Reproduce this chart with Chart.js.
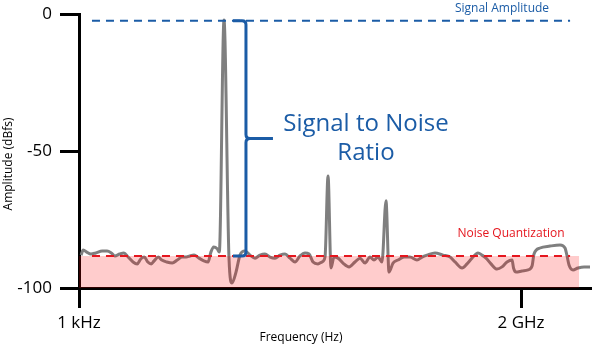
<!DOCTYPE html>
<html>
<head>
<meta charset="utf-8">
<script src="https://cdn.jsdelivr.net/npm/chart.js@4.4.0/dist/chart.umd.min.js"></script>
<style>
  html, body { margin: 0; padding: 0; background: #ffffff; }
  canvas { display: block; }
</style>
</head>
<body>
<canvas id="c" width="594" height="348"></canvas>
<script>
// Spectrum trace: frequency as log10(Hz), amplitude in dBFS
const spectrumLogHz = [
  3.03, 3.06, 3.11, 3.17, 3.24, 3.33, 3.40, 3.46, 3.51, 3.58, 3.64, 3.70, 3.77, 3.83, 3.88, 3.93,
  3.98, 4.03, 4.07, 4.13, 4.18, 4.25, 4.33, 4.40, 4.47, 4.53, 4.58, 4.64, 4.71, 4.78, 4.84, 4.88,
  4.92, 4.97, 5.00, 5.067, 5.138, 5.181, 5.238, 5.295, 5.366, 5.438, 5.509, 5.580, 5.651, 5.723,
  5.794, 5.865, 5.937, 6.008, 6.079, 6.150, 6.222, 6.279, 6.336, 6.407, 6.464, 6.507, 6.550, 6.592,
  6.635, 6.692, 6.763, 6.849, 6.934, 7.006, 7.077, 7.148, 7.205, 7.262, 7.319, 7.376, 7.419, 7.476,
  7.547, 7.633, 7.718, 7.818, 7.890, 7.961, 8.075, 8.189, 8.289, 8.360, 8.460, 8.531, 8.602, 8.688,
  8.745, 8.802, 8.873, 8.959, 9.030, 9.101, 9.173, 9.194, 9.230, 9.315, 9.401, 9.458, 9.486, 9.572,
  9.714, 9.857, 9.928, 9.957, 9.985, 10.042, 10.113, 10.199, 10.284
];
const spectrumDb = [
  -88.0, -86.1, -86.9, -87.6, -87.2, -86.5, -86.5, -87.2, -88.3, -87.6, -87.2, -88.7, -90.5, -91.2, -89.4, -88.7,
  -90.5, -91.2, -90.1, -88.7, -89.8, -90.5, -90.9, -89.8, -88.7, -88.7, -88.3, -88.0, -89.1, -90.1, -90.5, -86.9,
  -85.0, -85.7, -86.9, -2.2, -89.1, -98.2, -94.2, -88.0, -86.5, -88.0, -89.1, -88.0, -87.6, -88.7,
  -89.1, -88.0, -87.6, -89.1, -90.5, -88.3, -87.2, -87.6, -90.5, -91.2, -90.5, -88.7, -59.1, -92.7,
  -88.7, -89.1, -90.9, -92.3, -90.5, -89.1, -90.9, -88.7, -89.8, -88.7, -90.5, -68.2, -94.2, -90.9,
  -89.8, -88.7, -88.7, -89.8, -88.7, -88.0, -87.2, -88.0, -88.7, -90.5, -92.7, -91.2, -89.1, -87.2,
  -88.0, -89.1, -91.2, -93.1, -92.3, -90.5, -89.8, -92.7, -94.2, -93.8, -93.4, -92.0, -87.6, -85.4,
  -84.7, -84.3, -85.4, -88.3, -91.6, -93.4, -92.7, -92.3, -92.3
];

// Reference levels (dBFS)
const signalLevelDb = -2.5;
const noiseFloorDb = -88.3;

// Axis ticks
const yTickValues = [0, -50, -100];
const xTickHz = [1e3, 2e9];
const xTickLabels = ['1 kHz', '2 GHz'];

// Horizontal extents of the reference lines and the noise band (log10 Hz)
const refLineSpan = [3.185, 10.0];
const noiseBandSpan = [3.0, 10.13];
const bracketAt = 5.38;

const BLUE = '#1b5ca6';
const RED = '#e5161e';
const FONT = "'Open Sans', 'DejaVu Sans', sans-serif";

const toPoints = (xs, ys) => xs.map((v, i) => ({ x: v, y: ys[i] }));
const flat = (span, level) => span.map(v => ({ x: v, y: level }));

const annotations = {
  id: 'annotations',
  afterDatasetsDraw(chart) {
    const { ctx, scales: { x, y } } = chart;
    const top = y.getPixelForValue(signalLevelDb);
    const bot = y.getPixelForValue(noiseFloorDb);
    const mid = (top + bot) / 2;
    const sx = x.getPixelForValue(bracketAt);
    const r = 4;

    ctx.save();
    ctx.strokeStyle = BLUE;
    ctx.lineWidth = 3;
    ctx.lineJoin = 'round';
    ctx.beginPath();
    ctx.moveTo(sx - 13, top);
    ctx.lineTo(sx - r, top);
    ctx.quadraticCurveTo(sx, top, sx, top + r);
    ctx.lineTo(sx, mid - r);
    ctx.quadraticCurveTo(sx, mid, sx + r, mid);
    ctx.lineTo(sx + 27, mid);
    ctx.moveTo(sx + r, mid);
    ctx.quadraticCurveTo(sx, mid, sx, mid + r);
    ctx.lineTo(sx, bot - r);
    ctx.quadraticCurveTo(sx, bot, sx - r, bot);
    ctx.lineTo(sx - 13, bot);
    ctx.stroke();

    ctx.fillStyle = BLUE;
    ctx.textAlign = 'center';
    ctx.textBaseline = 'middle';
    ctx.font = `24px ${FONT}`;
    ctx.fillText('Signal to Noise', sx + 120, mid - 14);
    ctx.fillText('Ratio', sx + 120, mid + 15);

    ctx.font = `12px ${FONT}`;
    ctx.fillText('Signal Amplitude', x.getPixelForValue(9.03), top - 12);
    ctx.fillStyle = RED;
    ctx.fillText('Noise Quantization', x.getPixelForValue(9.158), bot - 22);
    ctx.restore();
  },
  afterDraw(chart) {
    const { ctx } = chart;
    ctx.save();
    ctx.fillStyle = '#000';
    ctx.font = `12px ${FONT}`;
    ctx.textAlign = 'center';
    ctx.textBaseline = 'middle';
    ctx.fillText('Frequency (Hz)', 301, 338);
    ctx.translate(9, 164);
    ctx.rotate(-Math.PI / 2);
    ctx.fillText('Amplitude (dBfs)', 0, 0);
    ctx.restore();
  }
};

new Chart(document.getElementById('c'), {
  type: 'line',
  data: {
    datasets: [
      {
        label: 'Noise Quantization',
        data: flat(refLineSpan, noiseFloorDb),
        borderColor: RED,
        borderWidth: 2,
        borderDash: [8, 6],
        pointRadius: 0,
        fill: false,
        order: 0
      },
      {
        label: 'Signal Amplitude',
        data: flat(refLineSpan, signalLevelDb),
        borderColor: BLUE,
        borderWidth: 2,
        borderDash: [8, 6],
        pointRadius: 0,
        fill: false,
        order: 0
      },
      {
        label: 'Noise band',
        data: flat(noiseBandSpan, noiseFloorDb),
        borderWidth: 0,
        borderColor: 'rgba(0,0,0,0)',
        backgroundColor: 'rgba(255,0,0,0.2)',
        pointRadius: 0,
        fill: 'start',
        order: 1
      },
      {
        label: 'Spectrum',
        data: toPoints(spectrumLogHz, spectrumDb),
        borderColor: '#7f7f7f',
        borderWidth: 3,
        pointRadius: 0,
        cubicInterpolationMode: 'monotone',
        fill: false,
        clip: false,
        order: 2
      }
    ]
  },
  options: {
    responsive: false,
    animation: false,
    devicePixelRatio: 1,
    layout: { padding: { top: 14, right: 4, left: 0, bottom: 0 } },
    plugins: { legend: { display: false }, tooltip: { enabled: false } },
    scales: {
      x: {
        type: 'linear',
        min: 3,
        max: 10.284,
        afterBuildTicks: s => { s.ticks = xTickHz.map(h => ({ value: Math.log10(h) })); },
        afterFit: s => { s.height = 60; s.paddingLeft = 0; s.paddingRight = 0; },
        ticks: {
          callback: (v, i) => xTickLabels[i],
          color: '#000',
          font: { size: 17, family: FONT },
          padding: 5,
          maxRotation: 0
        },
        grid: { drawOnChartArea: false, drawTicks: true, tickLength: 20, color: '#000', lineWidth: 3 },
        border: { display: true, color: '#000', width: 3 }
      },
      y: {
        type: 'linear',
        min: -100,
        max: 0,
        afterBuildTicks: s => { s.ticks = yTickValues.map(v => ({ value: v })); },
        afterFit: s => { s.width = 79; s.paddingTop = 0; s.paddingBottom = 0; },
        ticks: {
          color: '#000',
          font: { size: 17, family: FONT },
          padding: 8
        },
        grid: { drawOnChartArea: false, drawTicks: true, tickLength: 19, color: '#000', lineWidth: 3 },
        border: { display: true, color: '#000', width: 3 }
      }
    }
  },
  plugins: [annotations]
});
</script>
</body>
</html>
